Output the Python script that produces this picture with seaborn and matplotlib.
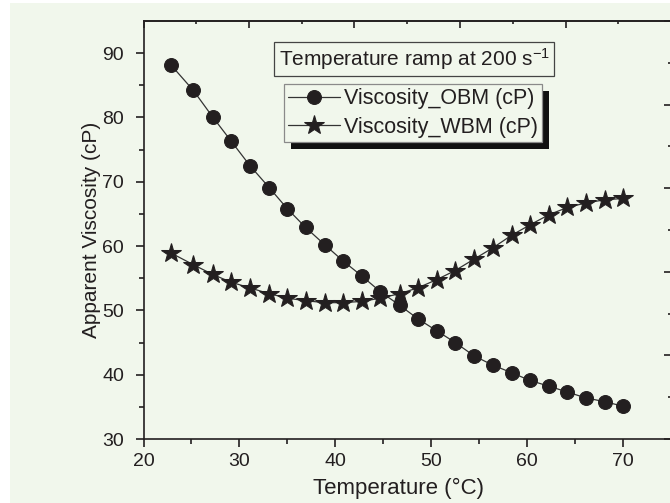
import matplotlib
matplotlib.use("Agg")
import matplotlib.pyplot as plt
from matplotlib.patches import Rectangle
from matplotlib.ticker import FixedLocator, NullFormatter
import seaborn as sns

# Temperature ramp data (°C) and apparent viscosity (cP) of the two muds
temperature = [22.9, 25.2, 27.2, 29.1, 31.1, 33.1, 35.0, 36.9, 38.9, 40.8,
               42.8, 44.7, 46.7, 48.6, 50.6, 52.5, 54.5, 56.4, 58.4, 60.3,
               62.3, 64.2, 66.1, 68.1, 70.0]
viscosity_obm = [88.1, 84.2, 80.1, 76.4, 72.5, 69.1, 65.8, 62.9, 60.2, 57.7,
                 55.3, 52.9, 50.8, 48.7, 46.8, 45.0, 42.9, 41.5, 40.3, 39.1,
                 38.2, 37.3, 36.4, 35.8, 35.1]
viscosity_wbm = [58.9, 57.1, 55.6, 54.4, 53.5, 52.6, 51.9, 51.5, 51.2, 51.2,
                 51.4, 51.9, 52.6, 53.5, 54.8, 56.2, 58.0, 59.7, 61.7, 63.3,
                 64.9, 66.0, 66.7, 67.2, 67.4]

label_obm = "Viscosity_OBM (cP)"
label_wbm = "Viscosity_WBM (cP)"
box_text = "Temperature ramp at 200 s$^{-1}$"
xlabel = "Temperature (°C)"
ylabel = "Apparent Viscosity (cP)"

BG = "#F1F7EC"
INK = "#231F20"

sns.set_theme(style="ticks")
plt.rcParams["font.family"] = ["Liberation Sans", "DejaVu Sans"]
plt.rcParams["mathtext.fontset"] = "custom"
plt.rcParams["mathtext.rm"] = "Liberation Sans"
plt.rcParams["mathtext.it"] = "Liberation Sans:italic"
plt.rcParams["mathtext.bf"] = "Liberation Sans:bold"

fig = plt.figure(figsize=(6.70, 5.03), dpi=100, facecolor="white")
# tinted page area with a thin white margin on the top and left
fig.patches.append(Rectangle((10 / 670, 0), 1, 1 - 3 / 503, transform=fig.transFigure,
                             facecolor=BG, edgecolor="none", zorder=-10))

ax = fig.add_axes([143.5 / 670, 1 - 439 / 503, (671 - 143.5) / 670, (439 - 21) / 503])
ax.set_facecolor(BG)

sns.lineplot(x=temperature, y=viscosity_obm, ax=ax, color="#333333", linewidth=0.9,
             marker="o", markersize=10, markerfacecolor=INK, markeredgecolor=INK,
             label=label_obm, sort=False, zorder=3)
sns.lineplot(x=temperature, y=viscosity_wbm, ax=ax, color="#333333", linewidth=0.9,
             marker="*", markersize=15, markerfacecolor=INK, markeredgecolor=INK,
             label=label_wbm, sort=False, zorder=3)

ax.set_xlim(20, 75)
ax.set_ylim(30, 95)
ax.xaxis.set_major_locator(FixedLocator([20, 30, 40, 50, 60, 70]))
ax.xaxis.set_minor_locator(FixedLocator([25, 35, 45, 55, 65]))
ax.yaxis.set_major_locator(FixedLocator([30, 40, 50, 60, 70, 80, 90]))
ax.yaxis.set_minor_locator(FixedLocator([35, 45, 55, 65, 75, 85]))

for side in ["left", "bottom", "top", "right"]:
    ax.spines[side].set_color(INK)
    ax.spines[side].set_linewidth(1.2)
ax.tick_params(which="major", direction="out", length=6, width=1.2, color=INK,
               labelsize=14, labelcolor=INK, pad=4)
ax.tick_params(which="minor", direction="out", length=3.5, width=1.2, color=INK)
ax.tick_params(axis="y", which="major", pad=8)

ax.set_xlabel(xlabel, fontsize=16, color=INK)
ax.set_ylabel(ylabel, fontsize=15, color=INK)
ax.xaxis.set_label_coords(0.483, -0.093)
ax.yaxis.set_label_coords(-0.08, 0.5)

# secondary scales on top and right: five divisions, inward ticks, no labels
top = ax.secondary_xaxis("top", functions=(lambda x: (x - 20) / 11, lambda u: u * 11 + 20))
right = ax.secondary_yaxis("right", functions=(lambda y: (y - 30) / 13, lambda u: u * 13 + 30))
for sec, axis in [(top, top.xaxis), (right, right.yaxis)]:
    axis.set_major_locator(FixedLocator([0, 1, 2, 3, 4, 5]))
    axis.set_minor_locator(FixedLocator([0.5, 1.5, 2.5, 3.5, 4.5]))
    axis.set_major_formatter(NullFormatter())
    sec.tick_params(which="major", direction="in", length=5, width=1.2, color=INK)
    sec.tick_params(which="minor", direction="in", length=2.5, width=1.2, color=INK)
    for sp in sec.spines.values():
        sp.set_color(INK)
        sp.set_linewidth(1.2)

ax.text(0.513, 0.909, box_text, transform=ax.transAxes, ha="center", va="center",
        fontsize=15, color=INK,
        bbox=dict(boxstyle="square,pad=0.2", facecolor=BG, edgecolor="#444444", linewidth=0.9))

leg = ax.legend(loc="upper left", bbox_to_anchor=(0.266, 0.849), borderaxespad=0,
                fontsize=15.5, frameon=True, fancybox=False, framealpha=1,
                facecolor=BG, edgecolor="#8a8a8a", handlelength=2.4, handletextpad=0.2,
                borderpad=0.2, labelspacing=0.35,
                shadow=dict(ox=5, oy=-5, facecolor="#111111", edgecolor="none", alpha=1))
leg.get_frame().set_linewidth(0.9)
for t in leg.get_texts():
    t.set_color(INK)

fig.savefig("out.png", dpi=100, facecolor=fig.get_facecolor())
